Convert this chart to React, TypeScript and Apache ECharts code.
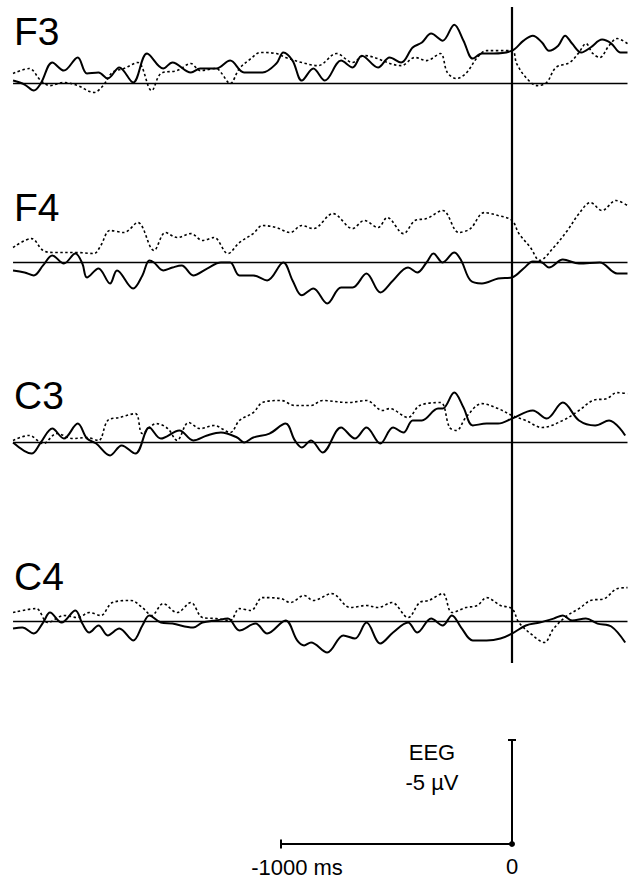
import React, { useEffect, useRef } from "react";
import * as echarts from "echarts";

// ---- Data (time in ms relative to movement onset, amplitude in µV; negative is drawn upward) ----
const channels = ["F3", "F4", "C3", "C4"];

const f3Solid: [number, number][] = [
  [-2160, -0.14], [-2110, 0.05], [-2070, 0.34], [-2040, 0], [-1990, -1.01], [-1940, -0.62],
  [-1880, -1.25], [-1840, -0.48], [-1790, -0.53], [-1750, -0.24], [-1700, -0.77], [-1640, -0.05],
  [-1580, -1.44], [-1510, -0.72], [-1470, -1.01], [-1390, -0.53], [-1350, -0.72], [-1280, -0.72],
  [-1220, -1.1], [-1160, -0.53], [-1080, -0.53], [-1020, -0.96], [-990, -1.49], [-950, -1.1],
  [-910, -0.14], [-860, -0.72], [-810, -0.14], [-740, -1.1], [-690, -0.77], [-650, -1.34],
  [-580, -0.77], [-530, -1.25], [-480, -1.01], [-430, -1.73], [-390, -1.97], [-350, -2.4],
  [-300, -2.06], [-250, -2.83], [-210, -2.06], [-170, -1.2], [-130, -1.44], [-80, -1.44],
  [0, -1.58], [50, -2.06], [90, -2.3], [130, -1.97], [160, -1.58], [200, -1.82], [230, -2.3],
  [260, -1.92], [300, -1.49], [340, -1.73], [390, -2.11], [430, -1.92], [470, -1.49], [500, -1.49],
];
const f3Dotted: [number, number][] = [
  [-2160, -0.48], [-2090, -0.72], [-2040, -0.14], [-2000, 0.1], [-1940, -0.05], [-1880, 0.1],
  [-1810, 0.43], [-1770, 0.1], [-1730, -0.53], [-1680, -0.72], [-1620, -1.01], [-1560, 0.34],
  [-1520, -0.48], [-1450, -0.62], [-1390, -0.96], [-1350, -0.62], [-1280, -0.72], [-1260, -0.53],
  [-1220, 0], [-1180, -0.72], [-1130, -1.2], [-1090, -1.49], [-1020, -1.44], [-980, -1.25],
  [-910, -1.01], [-840, -0.86], [-760, -1.44], [-690, -1.01], [-640, -1.34], [-480, -0.86],
  [-420, -1.25], [-370, -1.1], [-310, -1.44], [-280, -0.53], [-240, -0.24], [-200, -0.48],
  [-150, -1.25], [-110, -1.58], [0, -1.58], [20, -0.96], [60, -0.29], [110, 0.1], [150, -0.05],
  [190, -0.77], [250, -1.01], [290, -1.49], [320, -1.92], [350, -1.44], [380, -1.25], [420, -1.82],
  [455, -2.16], [500, -1.92],
];
const f4Solid: [number, number][] = [
  [-2160, 0.38], [-2110, 0.48], [-2070, 0.62], [-2030, 0.14], [-1990, -0.34], [-1940, 0.05],
  [-1890, -0.43], [-1860, 0.05], [-1840, 0.72], [-1790, 0.29], [-1740, 1.01], [-1710, 0.38],
  [-1640, 1.25], [-1600, 0.62], [-1570, -0.1], [-1550, 0], [-1510, 0.38], [-1470, 0.24],
  [-1430, 0.14], [-1380, 0.62], [-1320, 0.29], [-1260, 0], [-1220, 0], [-1180, 0.62],
  [-1120, 0.62], [-1060, 0.86], [-990, 0], [-950, 0.86], [-910, 1.58], [-860, 1.25],
  [-800, 1.97], [-740, 1.2], [-690, 1.2], [-630, 0.53], [-570, 1.44], [-515, 0.86],
  [-450, 0.24], [-410, 0.48], [-370, 0], [-340, -0.43], [-300, 0], [-250, -0.48], [-220, -0.1],
  [-180, 0.86], [-130, 1.01], [-60, 0.77], [0, 0.72], [50, 0.29], [90, -0.05], [130, 0],
  [160, 0.24], [220, -0.14], [290, 0.05], [380, 0], [455, 0.53], [500, 0.53],
];
const f4Dotted: [number, number][] = [
  [-2160, -0.72], [-2080, -1.15], [-2030, -0.58], [-1980, -0.48], [-1880, -0.48], [-1810, -0.43],
  [-1780, -0.82], [-1740, -1.54], [-1680, -1.44], [-1620, -1.92], [-1550, -0.58], [-1500, -1.44],
  [-1450, -1.2], [-1390, -1.39], [-1340, -1.06], [-1290, -1.2], [-1230, -0.43], [-1180, -0.96],
  [-1120, -1.39], [-1080, -1.78], [-1020, -1.68], [-960, -1.44], [-910, -1.78], [-860, -1.63],
  [-775, -2.35], [-690, -1.63], [-640, -2.02], [-580, -1.68], [-540, -2.16], [-470, -1.39],
  [-420, -2.02], [-370, -2.11], [-300, -2.5], [-230, -1.44], [-180, -1.63], [-120, -2.4],
  [-60, -2.26], [0, -2.02], [30, -1.39], [80, -0.72], [120, -0.1], [180, -0.72], [240, -1.54],
  [290, -2.35], [340, -2.88], [390, -2.5], [450, -2.98], [500, -2.74],
];
const c3Solid: [number, number][] = [
  [-2160, 0], [-2080, 0.53], [-2040, 0], [-1990, -0.67], [-1940, -0.19], [-1880, -0.91],
  [-1840, -0.19], [-1800, 0.05], [-1740, 0.62], [-1690, 0.14], [-1630, 0.53], [-1570, -0.72],
  [-1520, -0.19], [-1440, -0.58], [-1380, -0.1], [-1320, -0.34], [-1260, -0.48], [-1190, -0.24],
  [-1160, 0], [-1120, -0.24], [-1050, -0.43], [-980, -0.91], [-940, -0.1], [-910, 0.24],
  [-870, -0.1], [-820, 0.48], [-740, -0.72], [-680, -0.19], [-630, -0.72], [-570, 0.05],
  [-515, -0.72], [-470, -0.48], [-430, -1.06], [-390, -1.06], [-320, -1.63], [-300, -1.63],
  [-250, -2.4], [-210, -1.68], [-170, -0.82], [-110, -0.91], [-60, -0.91], [0, -1.15],
  [90, -1.54], [150, -1.15], [220, -1.92], [290, -1.06], [360, -0.82], [420, -1.06], [490, -0.34],
];
const c3Dotted: [number, number][] = [
  [-2160, -0.1], [-2090, -0.34], [-2030, 0.05], [-1970, -0.43], [-1900, -0.19], [-1840, -0.24],
  [-1790, -0.1], [-1750, -1.06], [-1700, -1.2], [-1630, -1.39], [-1600, -0.43], [-1540, -0.91],
  [-1490, -0.67], [-1450, -0.1], [-1400, -0.96], [-1350, -0.67], [-1290, -0.82], [-1220, -0.48],
  [-1180, -1.06], [-1120, -1.44], [-1080, -1.92], [-1000, -2.02], [-940, -1.78], [-870, -1.78],
  [-820, -2.02], [-710, -1.92], [-630, -2.02], [-560, -1.54], [-530, -1.63], [-450, -1.2],
  [-400, -1.78], [-310, -1.92], [-270, -0.72], [-240, -0.58], [-200, -1.2], [-130, -1.87],
  [-60, -1.63], [0, -1.3], [60, -1.06], [130, -0.72], [220, -1.06], [290, -1.54], [350, -2.02],
  [410, -2.11], [455, -2.4], [500, -2.35],
];
const c4Solid: [number, number][] = [
  [-2160, 0.34], [-2120, 0.29], [-2070, 0.58], [-2030, 0.05], [-2000, -0.43], [-1950, 0.05],
  [-1890, -0.53], [-1860, 0.1], [-1830, 0.53], [-1790, 0.19], [-1750, 0.67], [-1700, 0.34],
  [-1640, 0.91], [-1600, 0.19], [-1570, -0.29], [-1520, 0.05], [-1470, 0.1], [-1380, 0.29],
  [-1340, 0.05], [-1280, -0.05], [-1230, -0.14], [-1180, 0.43], [-1110, 0.1], [-1060, 0.58],
  [-980, -0.05], [-930, 0.91], [-900, 1.15], [-870, 1.01], [-800, 1.49], [-730, 0.67],
  [-680, 0.82], [-630, 0.05], [-570, 1.06], [-515, 0.53], [-450, 0.05], [-410, 0.53],
  [-350, -0.14], [-300, 0.19], [-260, -0.29], [-220, 0.29], [-170, 0.91], [-110, 0.91],
  [-50, 0.82], [0, 0.58], [60, 0.19], [120, 0.05], [180, -0.14], [220, -0.29], [260, -0.05],
  [320, -0.14], [370, 0.1], [430, 0.24], [490, 1.01],
];
const c4Dotted: [number, number][] = [
  [-2160, -0.43], [-2060, -0.62], [-2010, 0.05], [-1940, -0.29], [-1880, -0.19], [-1830, -0.43],
  [-1780, -0.29], [-1730, -0.91], [-1650, -1.01], [-1600, -0.67], [-1560, -0.29], [-1510, -0.86],
  [-1450, -0.43], [-1390, -0.91], [-1340, -0.19], [-1280, -0.14], [-1220, -0.05], [-1180, -0.62],
  [-1130, -0.53], [-1080, -1.15], [-1000, -1.1], [-960, -0.91], [-900, -1.25], [-860, -1.01],
  [-780, -1.34], [-700, -0.67], [-630, -0.77], [-580, -0.67], [-520, -0.91], [-450, -0.19],
  [-400, -0.91], [-360, -1.01], [-300, -1.34], [-260, -0.43], [-200, -0.67], [-150, -0.77],
  [-110, -1.15], [-50, -0.77], [0, -0.62], [30, 0.05], [90, 0.67], [140, 1.01], [180, 0.34],
  [240, -0.29], [290, -0.62], [340, -1.01], [400, -1.1], [455, -1.58], [500, -1.63],
];

const solidTraces = [f3Solid, f4Solid, c3Solid, c4Solid];
const dottedTraces = [f3Dotted, f4Dotted, c3Dotted, c4Dotted];

const timeRange = [-2160, 500];
const scaleBarData: [number, number][] = [[-1000, 0], [0, 0], [0, -5]];
const scaleTimeLabels = ["-1000 ms", "0"];
const scaleAmpLabels = ["EEG", "-5 \u00b5V"];

// ---- Layout ----
const W = 634;
const H = 883;
const PX_PER_MS = 0.231;
const PX_PER_UV = 20.8;
const T0_PX = 512;
const X_MIN = -2200;
const X_MAX = 500;
const baselinePx = [83.5, 262.5, 442.5, 621.5];
const labelCenterY = [31, 207.5, 395, 576.5];
const Y_MIN = -3.5;
const Y_MAX = 2.5;
const FONT = "'Liberation Sans', Arial, Helvetica, sans-serif";

export default function App() {
  const ref = useRef<HTMLDivElement>(null);
  useEffect(() => {
    if (!ref.current) return;
    const chart = echarts.init(ref.current, undefined, { renderer: "svg" });
    const gridLeft = T0_PX - (0 - X_MIN) * PX_PER_MS;
    const gridWidth = (X_MAX - X_MIN) * PX_PER_MS;

    const grids: any[] = [];
    const xAxes: any[] = [];
    const yAxes: any[] = [];
    const series: any[] = [];

    const xAxisBase = { type: "value", min: X_MIN, max: X_MAX, show: false };

    baselinePx.forEach((b, i) => {
      grids.push({
        left: gridLeft,
        width: gridWidth,
        top: b - (0 - Y_MIN) * PX_PER_UV,
        height: (Y_MAX - Y_MIN) * PX_PER_UV,
      });
      xAxes.push({ ...xAxisBase, gridIndex: i });
      yAxes.push({ type: "value", min: Y_MIN, max: Y_MAX, inverse: true, show: false, gridIndex: i });
      series.push({
        type: "line",
        xAxisIndex: i,
        yAxisIndex: i,
        data: [[timeRange[0], 0], [timeRange[1], 0]],
        symbol: "none",
        lineStyle: { color: "#000", width: 1.3 },
        silent: true,
      });
      series.push({
        type: "line",
        name: channels[i] + " dotted",
        xAxisIndex: i,
        yAxisIndex: i,
        data: dottedTraces[i],
        symbol: "none",
        smooth: 0.35,
        lineStyle: { color: "#000", width: 1.6, type: [2.5, 2.5] },
      });
      series.push({
        type: "line",
        name: channels[i],
        xAxisIndex: i,
        yAxisIndex: i,
        data: solidTraces[i],
        symbol: "none",
        smooth: 0.35,
        lineStyle: { color: "#000", width: 2 },
      });
    });

    // overlay grid for the movement-onset line
    grids.push({ left: gridLeft, width: gridWidth, top: 7, height: 656 });
    xAxes.push({ ...xAxisBase, gridIndex: 4 });
    yAxes.push({ type: "value", min: 0, max: 1, show: false, gridIndex: 4 });
    series.push({
      type: "line",
      xAxisIndex: 4,
      yAxisIndex: 4,
      data: [[0, 0], [0, 1]],
      symbol: "none",
      lineStyle: { color: "#000", width: 2.2 },
    });

    // scale bar grid
    const scaleBase = 844;
    grids.push({
      left: gridLeft,
      width: gridWidth,
      top: scaleBase - 6 * PX_PER_UV,
      height: 7 * PX_PER_UV,
    });
    xAxes.push({ ...xAxisBase, gridIndex: 5 });
    yAxes.push({ type: "value", min: -6, max: 1, inverse: true, show: false, gridIndex: 5 });
    series.push({
      type: "line",
      xAxisIndex: 5,
      yAxisIndex: 5,
      showSymbol: true,
      data: [
        { value: scaleBarData[0], symbol: "rect", symbolSize: [2, 9] },
        { value: scaleBarData[1], symbol: "circle", symbolSize: 6 },
        { value: scaleBarData[2], symbol: "rect", symbolSize: [8, 2] },
      ],
      itemStyle: { color: "#000" },
      lineStyle: { color: "#000", width: 2 },
    });

    const graphics: any[] = channels.map((c, i) => ({
      type: "text",
      x: 14,
      y: labelCenterY[i],
      style: {
        text: c,
        fill: "#000",
        font: `39px ${FONT}`,
        textAlign: "left",
        textVerticalAlign: "middle",
      },
    }));
    graphics.push(
      {
        type: "text",
        x: 432,
        y: 752.5,
        style: { text: scaleAmpLabels[0], fill: "#000", font: `22px ${FONT}`, textAlign: "center", textVerticalAlign: "middle" },
      },
      {
        type: "text",
        x: 432,
        y: 782.5,
        style: { text: scaleAmpLabels[1], fill: "#000", font: `22px ${FONT}`, textAlign: "center", textVerticalAlign: "middle" },
      },
      {
        type: "text",
        x: 297,
        y: 867,
        style: { text: scaleTimeLabels[0], fill: "#000", font: `22px ${FONT}`, textAlign: "center", textVerticalAlign: "middle" },
      },
      {
        type: "text",
        x: 512,
        y: 866,
        style: { text: scaleTimeLabels[1], fill: "#000", font: `22px ${FONT}`, textAlign: "center", textVerticalAlign: "middle" },
      }
    );

    chart.setOption({
      animation: false,
      backgroundColor: "#fff",
      grid: grids,
      xAxis: xAxes,
      yAxis: yAxes,
      series,
      graphic: graphics,
    });
    return () => chart.dispose();
  }, []);
  return (
    <div
      ref={ref}
      style={{ position: "absolute", left: 0, top: 0, width: W, height: H, background: "#fff" }}
    />
  );
}
